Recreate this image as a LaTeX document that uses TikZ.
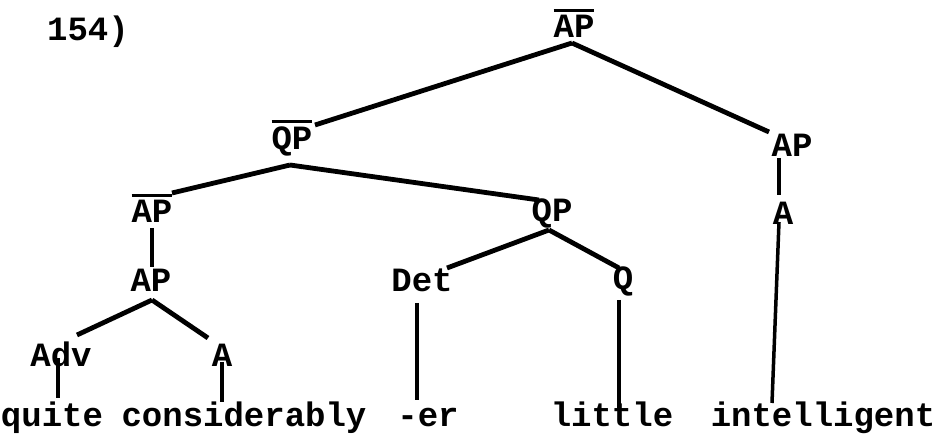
\documentclass[tikz,border=0pt]{standalone}
\usepackage{fontspec}
\setmainfont{Liberation Mono}
\usetikzlibrary{calc}
\newcommand\ovbar[1]{\setbox0=\hbox{#1}\rlap{\rule[\dimexpr\ht0+4pt\relax]{\wd0}{3pt}}\box0}
\begin{document}
\begin{tikzpicture}[x=1pt,y=-1pt,
  lab/.style={anchor=base,inner sep=0pt,font=\fontsize{34}{34}\selectfont\bfseries},
  br/.style={line width=4.8pt},
  vr/.style={line width=3.5pt}]
\fill[white] (0,0) rectangle (937,435);
\useasboundingbox (0,0) rectangle (937,435);
% labels
\node[lab] (num) at (88,41) {154)};
\node[lab] (APtop) at (574,38) {\ovbar{AP}};
\node[lab] (QPbar) at (292,150) {\ovbar{QP}};
\node[lab] (APr) at (792,157) {AP};
\node[lab] (APbar) at (152,223) {\ovbar{AP}};
\node[lab] (QP) at (552,222) {QP};
\node[lab] (Ar) at (783,225) {A};
\node[lab] (AP) at (151,292) {AP};
\node[lab] (Det) at (422,292) {Det};
\node[lab] (Q) at (623,290) {Q};
\node[lab] (Adv) at (61,367) {Adv};
\node[lab] (A) at (222,367) {A};
\node[lab] (w1) at (52,427) {quite};
\node[lab] (w2) at (244,427) {considerably};
\node[lab] (w3) at (428,427) {-er};
\node[lab] (w4) at (612,427) {little};
\node[lab] (w5) at (823,427) {intelligent};
% branches
\draw[br] ($(APtop.base)+(-2,5)$) -- ($(QPbar.base)+(23,-25)$);
\draw[br] ($(APtop.base)+(-2,5)$) -- ($(APr.base)+(-23,-25)$);
\draw[br] ($(QPbar.base)+(-2,15)$) -- ($(APbar.base)+(20,-30)$);
\draw[br] ($(QPbar.base)+(-2,15)$) -- ($(QP.base)+(-13,-22)$);
\draw[vr] ($(APbar.base)+(0,5)$) -- ($(AP.base)+(1,-25)$);
\draw[br] ($(QP.base)+(-3,8)$) -- ($(Det.base)+(25,-24)$);
\draw[br] ($(QP.base)+(-3,8)$) -- ($(Q.base)+(-4,-22)$);
\draw[vr] ($(APr.base)+(-13,1)$) -- ($(Ar.base)+(-4,-30)$);
\draw[br] ($(AP.base)+(1,8)$) -- ($(Adv.base)+(16,-32)$);
\draw[br] ($(AP.base)+(1,8)$) -- ($(A.base)+(-14,-29)$);
\draw[vr] ($(Adv.base)+(-3,-9)$) -- ($(w1.base)+(6,-29)$);
\draw[vr] ($(A.base)+(0,-5)$) -- ($(w2.base)+(-22,-25)$);
\draw[vr] ($(Det.base)+(-5,11)$) -- ($(w3.base)+(-11,-27)$);
\draw[vr] ($(Q.base)+(-4,10)$) -- ($(w4.base)+(7,-17)$);
\draw[vr] ($(Ar.base)+(-4,-3)$) -- ($(w5.base)+(-51,-24)$);
\end{tikzpicture}
\end{document}
